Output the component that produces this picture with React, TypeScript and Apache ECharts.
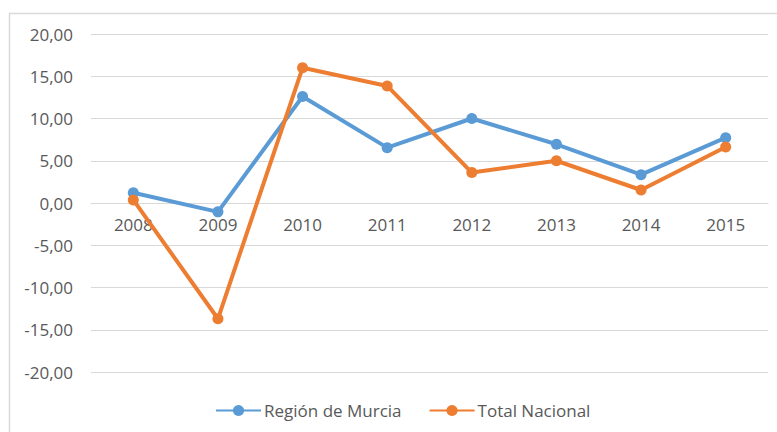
import React, { useEffect, useRef } from "react";
import * as echarts from "echarts";

const years = ["2008", "2009", "2010", "2011", "2012", "2013", "2014", "2015"];
const murcia = [1.22, -1.05, 12.6, 6.55, 10.0, 6.95, 3.35, 7.73];
const nacional = [0.36, -13.7, 16.0, 13.85, 3.6, 5.0, 1.54, 6.63];
const seriesNames = ["Región de Murcia", "Total Nacional"];
const yMin = -20;
const yMax = 20;
const yStep = 5;

const FONT = "'Open Sans', 'Noto Sans', sans-serif";
const TEXT = "#595959";

export default function App() {
  const ref = useRef<HTMLDivElement>(null);
  useEffect(() => {
    if (!ref.current) return;
    const chart = echarts.init(ref.current, undefined, { renderer: "svg" });
    const gridTop = 34;
    const gridBottom = 60;
    const plotH = 432 - gridTop - gridBottom;
    const zeroOffset = (plotH * (0 - yMin)) / (yMax - yMin);
    chart.setOption({
      animation: false,
      backgroundColor: "#ffffff",
      textStyle: { fontFamily: FONT },
      graphic: [
        {
          type: "rect",
          shape: { x: 9.5, y: 13.5, width: 820, height: 500 },
          style: { fill: "none", stroke: "#d9d9d9", lineWidth: 1.5 },
          silent: true,
        },
      ],
      grid: { left: 91, right: 9, top: gridTop, bottom: gridBottom, containLabel: false },
      legend: {
        left: 210,
        top: 397,
        itemWidth: 45,
        itemHeight: 14,
        itemGap: 27,
        textStyle: { color: TEXT, fontSize: 17, fontFamily: FONT, padding: [0, 0, 0, -2] },
        data: seriesNames,
      },
      xAxis: {
        type: "category",
        data: years,
        boundaryGap: true,
        position: "bottom",
        offset: -zeroOffset,
        axisLine: { show: true, onZero: false, lineStyle: { color: "#d9d9d9", width: 1 } },
        axisTick: { show: false },
        axisLabel: { color: TEXT, fontSize: 17, fontFamily: FONT, margin: 13 },
        splitLine: { show: false },
      },
      yAxis: {
        type: "value",
        min: yMin,
        max: yMax,
        interval: yStep,
        axisLine: { show: false },
        axisTick: { show: false },
        axisLabel: {
          color: TEXT,
          fontSize: 17,
          fontFamily: FONT,
          margin: 18,
          formatter: (v: number) => v.toFixed(2).replace(".", ","),
        },
        splitLine: { lineStyle: { color: "#d9d9d9", width: 1 } },
      },
      series: [
        {
          name: seriesNames[0],
          type: "line",
          data: murcia,
          symbol: "circle",
          symbolSize: 11,
          itemStyle: { color: "#5B9BD5" },
          lineStyle: { color: "#5B9BD5", width: 4 },
        },
        {
          name: seriesNames[1],
          type: "line",
          data: nacional,
          symbol: "circle",
          symbolSize: 11,
          itemStyle: { color: "#ED7D31" },
          lineStyle: { color: "#ED7D31", width: 4 },
        },
      ],
    });
    return () => chart.dispose();
  }, []);
  return (
    <div
      ref={ref}
      style={{ position: "fixed", left: 0, top: 0, width: 777, height: 432 }}
    />
  );
}
